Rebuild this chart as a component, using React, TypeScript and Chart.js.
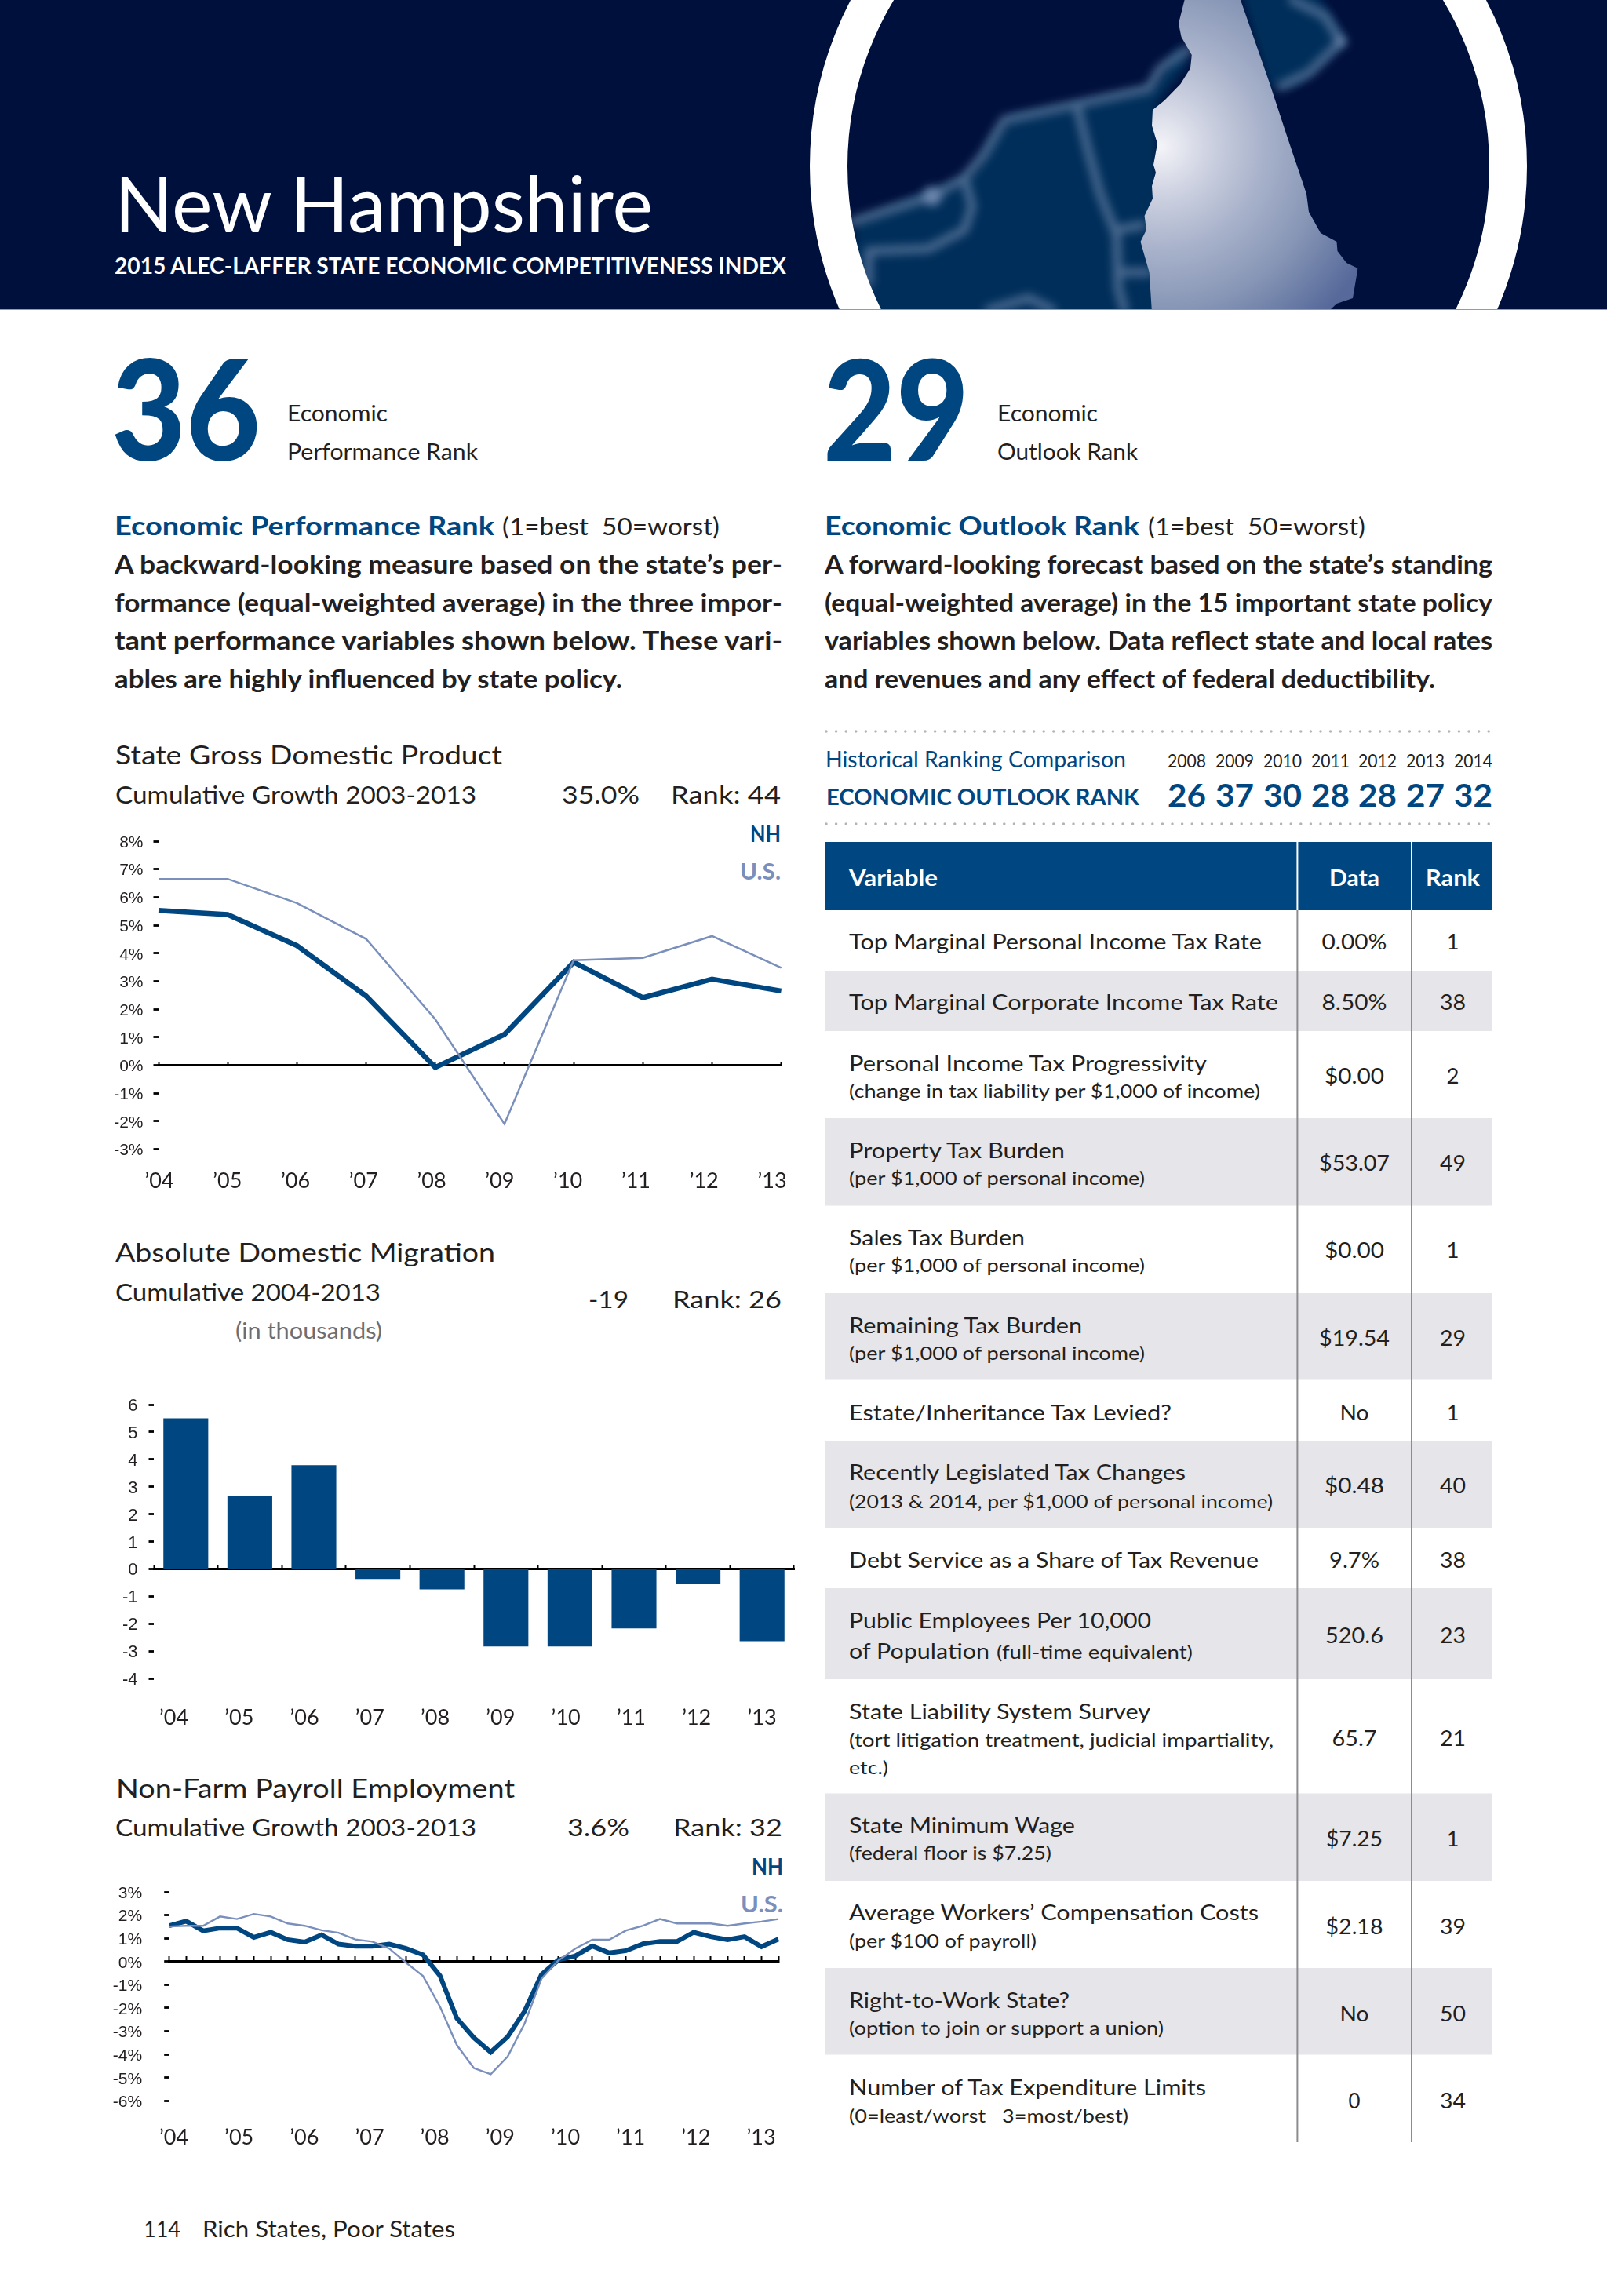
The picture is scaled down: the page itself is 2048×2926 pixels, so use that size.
import React, { useEffect, useRef } from "react";
import { Chart, registerables } from "chart.js";

Chart.register(...registerables);

// ---------- data ----------
const yearLabels = ["’04", "’05", "’06", "’07", "’08", "’09", "’10", "’11", "’12", "’13"];
const gdpNH = [5.53, 5.38, 4.27, 2.47, -0.08, 1.1, 3.68, 2.41, 3.07, 2.65];
const gdpUS = [6.65, 6.65, 5.79, 4.51, 1.64, -2.1, 3.75, 3.83, 4.61, 3.48];
const migration = [5.5, 2.66, 3.79, -0.37, -0.75, -2.83, -2.83, -2.17, -0.56, -2.64];
const quarters = ["Q1 04","Q2 04","Q3 04","Q4 04","Q1 05","Q2 05","Q3 05","Q4 05","Q1 06","Q2 06","Q3 06","Q4 06","Q1 07","Q2 07","Q3 07","Q4 07","Q1 08","Q2 08","Q3 08","Q4 08","Q1 09","Q2 09","Q3 09","Q4 09","Q1 10","Q2 10","Q3 10","Q4 10","Q1 11","Q2 11","Q3 11","Q4 11","Q1 12","Q2 12","Q3 12","Q4 12","Q1 13"];
const payrollNH = [1.54,1.74,1.32,1.44,1.44,1.04,1.26,0.94,0.84,1.15,0.75,0.66,0.66,0.75,0.56,0.29,-0.61,-2.45,-3.28,-3.9,-3.24,-2.14,-0.56,0.07,0.24,0.67,0.37,0.47,0.76,0.86,0.86,1.26,1.07,0.94,1.07,0.64,0.96];
const payrollUS = [1.51,1.54,1.54,1.94,1.83,2.05,1.94,1.64,1.54,1.35,1.24,0.95,0.86,0.56,-0.05,-0.63,-1.94,-3.6,-4.59,-4.85,-4.09,-2.67,-0.74,0.05,0.56,0.94,0.94,1.34,1.54,1.83,1.64,1.64,1.64,1.54,1.64,1.72,1.83];

const historyYears = ["2008", "2009", "2010", "2011", "2012", "2013", "2014"];
const historyRanks = ["26", "37", "30", "28", "28", "27", "32"];

const variableNames = [
  "Top Marginal Personal Income Tax Rate",
  "Top Marginal Corporate Income Tax Rate",
  "Personal Income Tax Progressivity",
  "Property Tax Burden",
  "Sales Tax Burden",
  "Remaining Tax Burden",
  "Estate/Inheritance Tax Levied?",
  "Recently Legislated Tax Changes",
  "Debt Service as a Share of Tax Revenue",
  "Public Employees Per 10,000",
  "State Liability System Survey",
  "State Minimum Wage",
  "Average Workers’ Compensation Costs",
  "Right-to-Work State?",
  "Number of Tax Expenditure Limits",
];
const variableNotes = [
  "", "",
  "(change in tax liability per $1,000 of income)",
  "(per $1,000 of personal income)",
  "(per $1,000 of personal income)",
  "(per $1,000 of personal income)",
  "",
  "(2013 & 2014, per $1,000 of personal income)",
  "",
  "(full-time equivalent)",
  "(tort litigation treatment, judicial impartiality,",
  "(federal floor is $7.25)",
  "(per $100 of payroll)",
  "(option to join or support a union)",
  "(0=least/worst\u00A0\u00A0\u00A03=most/best)",
];
const dataCells = ["0.00%", "8.50%", "$0.00", "$53.07", "$0.00", "$19.54", "No", "$0.48", "9.7%", "520.6", "65.7", "$7.25", "$2.18", "No", "0"];
const rankCells = ["1", "38", "2", "49", "1", "29", "1", "40", "38", "23", "21", "1", "39", "50", "34"];

// ---------- layout of the table ----------
const rowEdges = [1160, 1237, 1314, 1425, 1536.5, 1648, 1758.5, 1836, 1947, 2024, 2140, 2285.5, 2397, 2508, 2618.5, 2730];
const nameBase = [1210, 1287, 1365, 1476, 1587, 1699, 1809.5, 1886, 1998, 2075, 2191, 2336, 2447, 2559, 2670];
const nameW = [526, 547, 456, 275, 224, 297, 411, 429, 522, 385, 384, 288, 522, 281, 455];
const noteBase = [0, 0, 1399, 1510, 1621, 1733, 0, 1921.5, 0, 2114, 2226, 2370.4, 2482, 2593, 2705];
const noteX = [1082, 1082, 1082, 1082, 1082, 1082, 1082, 1082, 1082, 1270, 1082, 1082, 1082, 1082, 1082];
const noteW = [0, 0, 524, 377, 377, 377, 0, 540, 0, 250, 541, 258, 239, 401, 356];
const dataBase = [1210, 1287, 1381, 1492, 1603, 1715, 1809.5, 1903, 1998, 2094, 2225, 2353, 2464.6, 2575.5, 2687];
const dataW = [83, 83, 76, 90, 76, 90, 37, 76, 64, 74, 57, 72, 73, 37, 15];

const NAVY = "#00103C";
const BLUE = "#004680";
const US = "#7A8FBC";
const INK = "#231F20";

type Run = [string, number, number, number, number, number, string];
const runs: Run[] = [
  ["New Hampshire", 146, 296, 686, 99, 400, "#fff"],
  ["2015 ALEC-LAFFER STATE ECONOMIC COMPETITIVENESS INDEX", 146, 349, 856, 28, 700, "#fff"],
  ["36", 142, 587, 190, 178, 900, BLUE],
  ["Economic", 366, 537, 128, 28, 400, INK],
  ["Performance Rank", 366, 586, 243, 28, 400, INK],
  ["29", 1049, 587, 186, 178, 900, BLUE],
  ["Economic", 1271, 537, 128, 28, 400, INK],
  ["Outlook Rank", 1271, 586, 179, 28, 400, INK],
  ["Economic Performance Rank", 146, 682, 484, 33, 700, BLUE],
  ["(1=best\u00A0\u00A050=worst)", 640, 682, 277, 31, 400, INK],
  ["A backward-looking measure based on the state’s per-", 146, 731, 851, 32, 700, INK],
  ["formance (equal-weighted average) in the three impor-", 146, 780, 851, 32, 700, INK],
  ["tant performance variables shown below. These vari-", 146, 828, 851, 32, 700, INK],
  ["ables are highly influenced by state policy.", 146, 877, 647, 32, 700, INK],
  ["Economic Outlook Rank", 1051, 682, 401, 33, 700, BLUE],
  ["(1=best\u00A0\u00A050=worst)", 1463, 682, 277, 31, 400, INK],
  ["A forward-looking forecast based on the state’s standing", 1051, 731, 851, 32, 700, INK],
  ["(equal-weighted average) in the 15 important state policy", 1051, 780, 851, 32, 700, INK],
  ["variables shown below. Data reflect state and local rates", 1051, 828, 851, 32, 700, INK],
  ["and revenues and any effect of federal deductibility.", 1051, 877, 778, 32, 700, INK],
  ["State Gross Domestic Product", 147, 974, 493, 33, 400, INK],
  ["Cumulative Growth 2003-2013", 147, 1024, 460, 31, 400, INK],
  ["35.0%", 716, 1024, 99, 31, 400, INK],
  ["Rank: 44", 855, 1024, 140, 31, 400, INK],
  ["NH", 956, 1073, 39, 28, 700, BLUE],
  ["U.S.", 943, 1121, 52, 28, 700, US],
  ["Absolute Domestic Migration", 147, 1608, 484, 33, 400, INK],
  ["Cumulative 2004-2013", 147, 1658, 338, 31, 400, INK],
  ["-19", 750, 1667, 51, 31, 400, INK],
  ["Rank: 26", 857, 1667, 139, 31, 400, INK],
  ["(in thousands)", 300, 1706, 187, 28, 400, "#6D6E71"],
  ["Non-Farm Payroll Employment", 148, 2291, 508, 33, 400, INK],
  ["Cumulative Growth 2003-2013", 147, 2340, 460, 31, 400, INK],
  ["3.6%", 723, 2340, 79, 31, 400, INK],
  ["Rank: 32", 858, 2340, 139, 31, 400, INK],
  ["NH", 958, 2389, 40, 28, 700, BLUE],
  ["U.S.", 944, 2437, 54, 28, 700, US],
  ["114", 183, 2851, 47, 28, 400, INK],
  ["Rich States, Poor States", 258, 2851, 322, 28, 400, INK],
  ["Historical Ranking Comparison", 1052, 978, 383, 29, 400, BLUE],
  ["ECONOMIC OUTLOOK RANK", 1053, 1026, 399, 29, 700, BLUE],
  ["Variable", 1082, 1128.5, 113, 28, 700, "#fff"],
  ["Data", 1694, 1128.5, 64, 28, 700, "#fff"],
  ["Rank", 1817, 1128.5, 69, 28, 700, "#fff"],
  ["of Population", 1082, 2114, 179, 27, 400, INK],
  ["etc.)", 1082, 2260.5, 50, 24, 400, INK],
];

const historyX = [1488, 1549, 1610, 1671, 1731, 1792, 1853];

const T = ({ r }: { r: Run }) => (
  <text
    x={r[1]}
    y={r[2]}
    textLength={r[3]}
    lengthAdjust="spacingAndGlyphs"
    fontFamily="Lato"
    fontSize={r[4]}
    fontWeight={r[5]}
    fill={r[6]}
    style={{ whiteSpace: "pre" }}
  >
    {r[0]}
  </text>
);

// ---------- charts ----------
type Box = { left: number; top: number; width: number; height: number; L: number; R: number; T: number; B: number };

// a label axis whose unit positions the year labels independently of the zero-line axis
function labelAxis(box: Box, first: number, last: number, padding: number) {
  const unit = (last - first) / 9;
  return {
    axis: "x",
    type: "linear",
    position: "bottom",
    offset: false,
    min: (box.L - first) / unit,
    max: (box.R - first) / unit,
    grid: { display: false, drawTicks: false, offset: false },
    border: { display: false },
    afterFit: (s: any) => { s.height = box.top + box.height - box.B; },
    ticks: {
      stepSize: 1,
      includeBounds: false,
      autoSkip: false,
      maxRotation: 0,
      padding,
      color: INK,
      font: { family: "Lato", size: 27 },
      callback: (v: number) => yearLabels[Math.round(v)] ?? "",
    },
  };
}

function yAxis(box: Box, min: number, max: number, fontSize: number, padding: number, suffix: string) {
  return {
    type: "linear",
    min,
    max,
    border: { display: false },
    afterFit: (s: any) => { s.width = box.L - box.left; },
    grid: { drawOnChartArea: false, drawTicks: true, tickLength: 6.5, tickWidth: 2.8, tickColor: "#000" },
    ticks: {
      stepSize: 1,
      autoSkip: false,
      padding,
      labelOffset: 2,
      color: INK,
      font: { family: "'Liberation Sans'", size: fontSize },
      callback: (v: number) => String(v) + suffix,
    },
  };
}

function zeroAxis(offset: boolean, tick: number) {
  return {
    position: { y: 0 },
    offset,
    border: { display: true, color: "#000", width: 3 },
    grid: { drawOnChartArea: false, drawTicks: true, tickLength: -tick, tickWidth: 2, tickColor: "#000", offset },
    ticks: { display: false, autoSkip: false },
  };
}

function baseOptions(box: Box, scales: any) {
  return {
    animation: false,
    responsive: false,
    devicePixelRatio: 1,
    layout: { padding: { top: box.T - box.top, right: box.left + box.width - box.R, left: 0, bottom: 0 } },
    plugins: { legend: { display: false }, tooltip: { enabled: false }, title: { display: false } },
    elements: { point: { radius: 0 }, line: { tension: 0, borderCapStyle: "butt", borderJoinStyle: "miter" } },
    scales,
  } as any;
}

const box1: Box = { left: 120, top: 1040, width: 920, height: 500, L: 202, R: 995.6, T: 1072, B: 1464.5 };
const box2: Box = { left: 120, top: 1760, width: 920, height: 470, L: 196, R: 1012, T: 1790, B: 2139 };
const box3: Box = { left: 120, top: 2360, width: 920, height: 425, L: 215.7, R: 992, T: 2411, B: 2677.3 };

const boxStyle = (b: Box): React.CSSProperties => ({ position: "absolute", left: b.left, top: b.top, width: b.width, height: b.height });

const riverPaths = [
  "M1515 63L1479 87L1464 113L1372 133L1280 153L1254 197L1229 227L1188 250L1147 263L1086 283",
  "M1229 227L1239 263L1229 293L1183 317L1107 320L1107 360",
  "M1372 133L1387 193L1402 247L1423 300L1425 367L1433 395",
  "M1423 293L1456 287",
  "M1425 347L1464 347",
  "M1647 0L1688 20L1709 53L1668 93L1632 110",
  "M1260 395L1311 380L1341 395",
];

export default function App() {
  const c1 = useRef<HTMLCanvasElement>(null);
  const c2 = useRef<HTMLCanvasElement>(null);
  const c3 = useRef<HTMLCanvasElement>(null);

  useEffect(() => {
    document.body.style.margin = "0";
    const charts = [
      new Chart(c1.current!, {
        type: "line",
        data: {
          labels: yearLabels,
          datasets: [
            { label: "U.S.", data: gdpUS, borderColor: US, borderWidth: 2.5, order: 1 },
            { label: "NH", data: gdpNH, borderColor: BLUE, borderWidth: 6.5, order: 2 },
          ],
        },
        options: baseOptions(box1, {
          x: zeroAxis(false, 6),
          y: yAxis(box1, -3, 8, 21, 13, "%"),
          xl: labelAxis(box1, 203, 984, 25),
        }),
      }),
      new Chart(c2.current!, {
        type: "bar",
        data: {
          labels: yearLabels,
          datasets: [{ label: "NH", data: migration, backgroundColor: BLUE, barPercentage: 0.7, categoryPercentage: 1 }],
        },
        options: baseOptions(box2, {
          x: zeroAxis(true, 7),
          y: yAxis(box2, -4, 6, 22, 14, ""),
          xl: labelAxis(box2, 221.5, 971, 34),
        }),
      }),
      new Chart(c3.current!, {
        type: "line",
        data: {
          labels: quarters,
          datasets: [
            { label: "U.S.", data: payrollUS, borderColor: US, borderWidth: 2.4, order: 1 },
            { label: "NH", data: payrollNH, borderColor: BLUE, borderWidth: 6, order: 2 },
          ],
        },
        options: baseOptions(box3, {
          x: zeroAxis(false, 8),
          y: yAxis(box3, -6, 3, 21, 28, "%"),
          xl: labelAxis(box3, 221.5, 970, 31),
        }),
      }),
    ];
    return () => charts.forEach((c) => c.destroy());
  }, []);

  return (
    <div style={{ position: "absolute", left: 0, top: 0, width: 2048, height: 2926, background: "#fff", overflow: "hidden" }}>
      <svg width={2048} height={2926} style={{ position: "absolute", left: 0, top: 0 }}>
        <defs>
          <radialGradient id="nhFill" gradientUnits="userSpaceOnUse" cx={1479} cy={187} r={296}>
            <stop offset="0" stopColor="#f4f4f8" />
            <stop offset="0.2" stopColor="#cfd3e2" />
            <stop offset="0.45" stopColor="#a7b1ca" />
            <stop offset="0.7" stopColor="#8796b6" />
            <stop offset="1" stopColor="#56699a" />
          </radialGradient>
          <filter id="blurZone" x="-30%" y="-30%" width="160%" height="160%"><feGaussianBlur stdDeviation="6" /></filter>
          <filter id="blurThin" x="-30%" y="-30%" width="160%" height="160%"><feGaussianBlur stdDeviation="6" /></filter>
          <clipPath id="headerClip"><rect x={1040} y={0} width={690.5} height={395} /></clipPath>
          <clipPath id="pageHead"><rect x={0} y={0} width={2048} height={395} /></clipPath>
        </defs>

        <rect x={0} y={0} width={2048} height={395} fill={NAVY} />
        <g clipPath="url(#headerClip)">
          <g filter="url(#blurZone)" fill="#052F5A">
            <polygon points="1469,110 1372,132 1290,147 1265,173 1244,213 1224,230 1183,243 1091,283 1086,333 1117,420 1480,420 1474,133 1515,80 1502,57" />
            <polygon points="1581,-10 1678,-10 1716,53 1650,110 1617,110" />
          </g>
          <g fill="none" stroke="#49698F" strokeWidth={11} strokeLinejoin="round" strokeLinecap="round" filter="url(#blurThin)">
            {riverPaths.map((d) => <path key={d} d={d} />)}
            <circle cx={1188} cy={250} r={12} fill="#6D86AD" stroke="none" />
            <circle cx={1709} cy={53} r={7} fill="#6D86AD" stroke="none" />
          </g>
          <polygon
            fill="url(#nhFill)"
            points="1509.6,0 1502,30 1505.5,47 1518.8,70 1517,87 1504.5,107 1484,128 1469,140 1468,160 1475,183 1470,210 1473,220 1468,237 1469,253 1458.6,275 1461,293 1453.5,308 1464.7,347 1467.8,395 1695,395 1703.5,387 1724,380 1730.5,342 1716,335 1704.5,320 1703.5,308 1683,297 1668,270 1665,247 1640,173 1617,103 1581,0"
          />
        </g>
        <g clipPath="url(#pageHead)">
          <circle cx={1489} cy={212} r={433} fill="none" stroke="#fff" strokeWidth={48} />
        </g>
        <line x1={0} x2={2048} y1={394.5} y2={394.5} stroke="#8E9BB5" strokeWidth={1} />

        {/* dotted rules */}
        {[932, 1050].map((y) => (
          <line key={y} x1={1053} x2={1902} y1={y} y2={y} stroke="#b4b4b4" strokeWidth={3.5} strokeLinecap="round" strokeDasharray="0 12.6" />
        ))}

        {/* table fills */}
        <rect x={1052} y={1073} width={850} height={87} fill={BLUE} />
        {variableNames.map((_, i) =>
          i % 2 === 1 ? <rect key={i} x={1052} y={rowEdges[i]} width={850} height={rowEdges[i + 1] - rowEdges[i]} fill="#E6E5E9" /> : null
        )}
        <line x1={1653.4} x2={1653.4} y1={1073} y2={1160} stroke="#fff" strokeWidth={2} />
        <line x1={1799} x2={1799} y1={1073} y2={1160} stroke="#fff" strokeWidth={2} />
        <line x1={1653.4} x2={1653.4} y1={1160} y2={2730} stroke="#8C8C90" strokeWidth={2} />
        <line x1={1799} x2={1799} y1={1160} y2={2730} stroke="#8C8C90" strokeWidth={2} />

        {runs.map((r, i) => <T key={i} r={r} />)}

        {historyYears.map((y, i) => <T key={y} r={[y, historyX[i], 978, 49, 23, 400, INK]} />)}
        {historyRanks.map((v, i) => <T key={i} r={[v, historyX[i], 1027.5, 49, 41, 700, BLUE]} />)}

        {variableNames.map((n, i) => <T key={n} r={[n, 1082, nameBase[i], nameW[i], 27, 400, INK]} />)}
        {variableNotes.map((n, i) => n ? <T key={i} r={[n, noteX[i], noteBase[i], noteW[i], 24, 400, INK]} /> : null)}
        {dataCells.map((d, i) => <T key={i} r={[d, 1726 - dataW[i] / 2, dataBase[i], dataW[i], 27, 400, INK]} />)}
        {rankCells.map((d, i) => {
          const w = d.length === 1 ? 16 : 33;
          return <T key={i} r={[d, 1851.5 - w / 2, dataBase[i], w, 27, 400, INK]} />;
        })}
      </svg>

      <canvas ref={c1} width={box1.width} height={box1.height} style={boxStyle(box1)} />
      <canvas ref={c2} width={box2.width} height={box2.height} style={boxStyle(box2)} />
      <canvas ref={c3} width={box3.width} height={box3.height} style={boxStyle(box3)} />
    </div>
  );
}
